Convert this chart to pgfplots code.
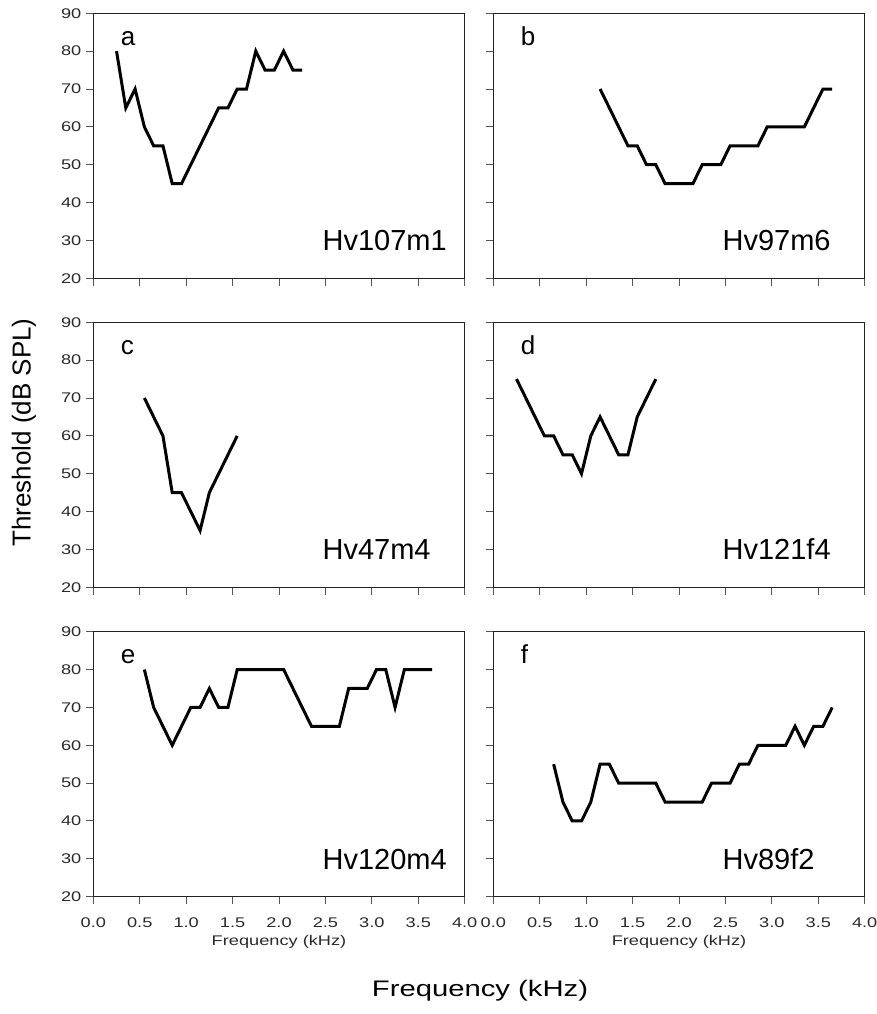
\documentclass[border=0pt]{standalone}
\usepackage{fontspec}
\setmainfont{Liberation Sans}
\newfontfamily\widefont[FakeStretch=1.3]{Liberation Sans}
\usepackage{pgfplots}
\pgfplotsset{compat=1.18}

\definecolor{axisgray}{HTML}{222222}
\definecolor{tickgray}{HTML}{555555}
\definecolor{labelgray}{HTML}{2A2A2A}

\pgfplotsset{
  panel/.style={
    scale only axis, width=371.4pt, height=265pt,
    xmin=0, xmax=4, ymin=20, ymax=90,
    xtick={0,0.5,1,1.5,2,2.5,3,3.5,4},
    ytick={20,30,40,50,60,70,80,90},
    tick pos=left,
    tick align=outside,
    major tick length=7.5pt,
    axis line style={axisgray, line width=1.3pt},
    major tick style={tickgray, line width=1pt},
    tick label style={font=\fontsize{14}{14}\widefont, text=labelgray},
    /pgf/number format/assume math mode=true,
    xticklabel style={/pgf/number format/fixed,
      /pgf/number format/fixed zerofill,
      /pgf/number format/precision=1, yshift=-10pt},
    yticklabel style={xshift=-1pt},
  },
  noxlabels/.style={xticklabels={}},
  noylabels/.style={yticklabels={}},
  withxlabel/.style={
    xlabel={Frequency (kHz)},
    xlabel style={at={(axis description cs:0.5,0)}, anchor=base,
      yshift=-49.3pt, font=\fontsize{14}{14}\widefont, text=labelgray},
  },
  curve/.style={black, line width=3pt, no marks},
}

\newcommand{\panellabels}[2]{%
  \node[anchor=base west, font=\fontsize{26}{26}\selectfont]
    at (rel axis cs:0.065,0.879) {#1};
  \node[anchor=base west, font=\fontsize{29}{29}\selectfont]
    at (rel axis cs:0.608,0.104) {#2};
}

\begin{document}
\begin{tikzpicture}
\useasboundingbox (0,0) rectangle (876pt,1014pt);

% a
\begin{axis}[panel, noxlabels, at={(93.3pt,735.7pt)}, anchor=south west]
\addplot[curve] coordinates {
(0.25,80)(0.35,65)(0.45,70)(0.55,60)(0.65,55)(0.75,55)(0.85,45)(0.95,45)
(1.05,50)(1.15,55)(1.25,60)(1.35,65)(1.45,65)(1.55,70)(1.65,70)(1.75,80)
(1.85,75)(1.95,75)(2.05,80)(2.15,75)(2.25,75)};
\panellabels{a}{Hv107m1}
\end{axis}

% b
\begin{axis}[panel, noxlabels, noylabels, at={(493.3pt,735.7pt)}, anchor=south west]
\addplot[curve] coordinates {
(1.15,70)(1.25,65)(1.35,60)(1.45,55)(1.55,55)(1.65,50)(1.75,50)(1.85,45)
(1.95,45)(2.05,45)(2.15,45)(2.25,50)(2.35,50)(2.45,50)(2.55,55)(2.65,55)
(2.75,55)(2.85,55)(2.95,60)(3.05,60)(3.15,60)(3.25,60)(3.35,60)(3.45,65)
(3.55,70)(3.65,70)};
\panellabels{b}{Hv97m6}
\end{axis}

% c
\begin{axis}[panel, noxlabels, at={(93.3pt,426.7pt)}, anchor=south west]
\addplot[curve] coordinates {
(0.55,70)(0.65,65)(0.75,60)(0.85,45)(0.95,45)(1.05,40)(1.15,35)(1.25,45)
(1.35,50)(1.45,55)(1.55,60)};
\panellabels{c}{Hv47m4}
\end{axis}

% d
\begin{axis}[panel, noxlabels, noylabels, at={(493.3pt,426.7pt)}, anchor=south west]
\addplot[curve] coordinates {
(0.25,75)(0.35,70)(0.45,65)(0.55,60)(0.65,60)(0.75,55)(0.85,55)(0.95,50)
(1.05,60)(1.15,65)(1.25,60)(1.35,55)(1.45,55)(1.55,65)(1.65,70)(1.75,75)};
\panellabels{d}{Hv121f4}
\end{axis}

% e
\begin{axis}[panel, withxlabel, at={(93.3pt,117.3pt)}, anchor=south west]
\addplot[curve] coordinates {
(0.55,80)(0.65,70)(0.75,65)(0.85,60)(0.95,65)(1.05,70)(1.15,70)(1.25,75)
(1.35,70)(1.45,70)(1.55,80)(1.65,80)(1.75,80)(1.85,80)(1.95,80)(2.05,80)
(2.15,75)(2.25,70)(2.35,65)(2.45,65)(2.55,65)(2.65,65)(2.75,75)(2.85,75)
(2.95,75)(3.05,80)(3.15,80)(3.25,70)(3.35,80)(3.45,80)(3.55,80)(3.65,80)};
\panellabels{e}{Hv120m4}
\end{axis}

% f
\begin{axis}[panel, withxlabel, noylabels, at={(493.3pt,117.3pt)}, anchor=south west]
\addplot[curve] coordinates {
(0.65,55)(0.75,45)(0.85,40)(0.95,40)(1.05,45)(1.15,55)(1.25,55)(1.35,50)
(1.45,50)(1.55,50)(1.65,50)(1.75,50)(1.85,45)(1.95,45)(2.05,45)(2.15,45)
(2.25,45)(2.35,50)(2.45,50)(2.55,50)(2.65,55)(2.75,55)(2.85,60)(2.95,60)
(3.05,60)(3.15,60)(3.25,65)(3.35,60)(3.45,65)(3.55,65)(3.65,70)};
\panellabels{f}{Hv89f2}
\end{axis}

% shared axis titles
\node[rotate=90, anchor=center, font=\fontsize{26}{26}\selectfont]
  at (24pt,581.5pt) {Threshold (dB SPL)};
\node[anchor=base, font=\fontsize{22.5}{22.5}\widefont]
  at (480pt,17.3pt) {Frequency (kHz)};
\end{tikzpicture}
\end{document}
